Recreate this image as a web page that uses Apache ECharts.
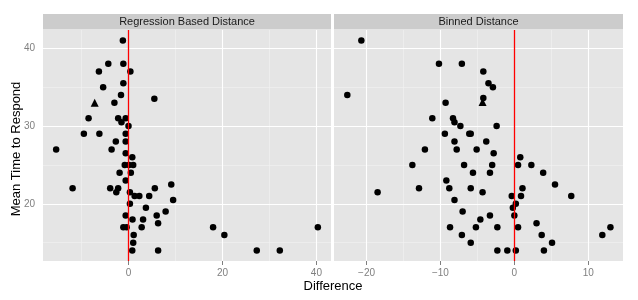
<!DOCTYPE html>
<html>
<head>
<meta charset="utf-8">
<script src="https://cdn.jsdelivr.net/npm/echarts@6/dist/echarts.min.js"></script>
<style>
html,body{margin:0;padding:0;background:#fff;}
#chart{width:638px;height:300px;}
</style>
</head>
<body>
<div id="chart"></div>
<script>
// ---- Data ----
const panelTitles = ["Regression Based Distance", "Binned Distance"];
const xTitle = "Difference";
const yTitle = "Mean Time to Respond";

// Regression Based Distance: [difference, mean time]
const regressionPoints = [
  [-1.2,41],[-4.3,38],[-1.1,38],[-6.3,37],[0.4,37],[-1.1,35.5],[-5.4,35],[-1.6,34],
  [5.5,33.5],[-3.0,33],[-8.5,31],[-2.2,31],[-0.6,31],[-1.5,30.5],[0.0,30],[-9.5,29],
  [-6.2,29],[-0.6,29],[-2.7,28],[-0.6,28],[-15.4,27],[-3.6,27],[-0.6,26.5],[0.8,26],
  [-0.8,25],[0.1,25],[1.0,25],[-1.9,24],[0.5,24],[-0.6,23],[-11.9,22],[-3.9,22],
  [-2.2,22],[5.6,22],[9.1,22.5],[-2.6,21.5],[0.3,21.5],[1.3,21],[2.3,21],[4.4,21],
  [9.5,20.5],[0.3,20],[3.7,19.5],[7.9,19],[-0.6,18.5],[6.0,18.5],[0.85,18],[3.1,18],
  [6.3,17.5],[-1.1,17],[-0.4,17],[2.8,17],[18.0,17],[40.3,17],[1.1,16],[20.4,16],
  [1.0,15],[0.8,14],[6.3,14],[27.3,14],[32.2,14]
];
const regressionTriangle = [[-7.2,33]];

// Binned Distance: [difference, mean time]
const binnedPoints = [
  [-20.7,41],[-22.6,34],[-10.2,38],[-7.1,38],[-4.2,37],[-3.5,35.5],[-2.9,35],[-4.2,33.6],
  [-9.3,33],[-11.1,31],[-8.3,31],[-8.1,30.5],[-7.3,30],[-2.4,30],[-9.4,29],[-6.1,29],
  [-5.9,29],[-8.1,28],[-3.8,28],[-12.1,27],[-7.8,27],[-5.1,27],[-2.8,26.5],[0.8,26],
  [-13.8,25],[-6.8,25],[-3.0,25],[0.5,25],[2.3,25],[-5.6,24],[-3.3,24],[3.9,24],
  [-9.2,23],[5.5,22.5],[-18.5,21.5],[-12.9,22],[-8.8,22],[-5.9,22],[-4.3,21.5],[1.1,22],
  [-0.35,21],[0.9,21],[7.7,21],[-8.1,20.5],[0.2,20],[-0.2,19.5],[-7.0,19],[0.0,18.5],
  [-3.3,18.5],[-4.6,18],[3.0,17.5],[-8.7,17],[-5.2,17],[-2.3,17],[0.5,17],[13.0,17],
  [-7.1,16],[3.7,16],[11.9,16],[-5.9,15],[5.1,15],[-2.3,14],[-0.95,14],[0.2,14],[4.0,14]
];
const binnedTriangle = [[-4.3,33.1]];

// Axis ticks
const yTicks = [20, 30, 40];
const yMinorTicks = [15, 25, 35];
const leftXTicks = [0, 20, 40];
const leftXMinor = [-10, 10, 30];
const rightXTicks = [-20, -10, 0, 10];
const rightXMinor = [-15, -5, 5];
const referenceX = 0;

// Axis ranges (ggplot-style 5% expansion)
const yRange = [12.65, 42.35];
const leftXRange = [-18.2, 43.1];
const rightXRange = [-24.4, 14.7];

// ---- Chart ----
const chart = echarts.init(document.getElementById('chart'), null, {renderer: 'canvas'});
const FONT = '"Liberation Sans", Arial, Helvetica, sans-serif';
const grids = [
  {left: 43, top: 30, width: 288, height: 231},
  {left: 334, top: 30, width: 289, height: 231}
];

function xAxisDef(idx, range, ticks) {
  return {
    type: 'value', gridIndex: idx, min: range[0], max: range[1],
    axisLine: {show: false},
    splitLine: {show: false},
    axisTick: {show: true, customValues: ticks, length: 4, lineStyle: {color: '#7f7f7f', width: 1}},
    axisLabel: {show: true, customValues: ticks, color: '#7f7f7f', fontSize: 10, fontFamily: FONT, margin: 7,
      formatter: v => (v < 0 ? '\u2212' + Math.abs(v) : String(v))}
  };
}
function yAxisDef(idx, showLabels) {
  return {
    type: 'value', gridIndex: idx, min: yRange[0], max: yRange[1],
    axisLine: {show: false},
    splitLine: {show: false},
    axisTick: {show: showLabels, customValues: yTicks, length: 4, lineStyle: {color: '#7f7f7f', width: 1}},
    axisLabel: {show: showLabels, customValues: yTicks, color: '#7f7f7f', fontSize: 10, fontFamily: FONT, margin: 8}
  };
}

function gridLineSeries(idx, xMajor, xMinor) {
  const common = {symbol: ['none', 'none'], silent: true, label: {show: false}, animation: false, z: 1};
  return [
    {
      type: 'line', xAxisIndex: idx, yAxisIndex: idx, data: [], z: 1, silent: true,
      markLine: Object.assign({}, common, {
        lineStyle: {color: '#f2f2f2', width: 0.6, type: 'solid'},
        data: xMinor.map(v => ({xAxis: v})).concat(yMinorTicks.map(v => ({yAxis: v})))
      })
    },
    {
      type: 'line', xAxisIndex: idx, yAxisIndex: idx, data: [], z: 1, silent: true,
      markLine: Object.assign({}, common, {
        lineStyle: {color: '#ffffff', width: 1.1, type: 'solid'},
        data: xMajor.map(v => ({xAxis: v})).concat(yTicks.map(v => ({yAxis: v})))
      })
    }
  ];
}
function pointSeries(idx, pts, symbol, size) {
  return {
    type: 'scatter', xAxisIndex: idx, yAxisIndex: idx, data: pts, symbol: symbol, symbolSize: size,
    itemStyle: {color: '#000000', opacity: 1}, z: 3, silent: true, animation: false
  };
}
function refLineSeries(idx) {
  return {
    type: 'line', xAxisIndex: idx, yAxisIndex: idx, data: [], z: 6, silent: true,
    markLine: {symbol: ['none', 'none'], silent: true, label: {show: false}, animation: false, z: 6,
      lineStyle: {color: '#ff0000', width: 1.3, type: 'solid'}, data: [{xAxis: referenceX}]}
  };
}

const option = {
  animation: false,
  backgroundColor: '#ffffff',
  textStyle: {fontFamily: FONT},
  grid: grids.map(g => Object.assign({show: true, backgroundColor: '#e5e5e5', borderWidth: 0, containLabel: false, outerBoundsMode: 'none'}, g)),
  xAxis: [xAxisDef(0, leftXRange, leftXTicks), xAxisDef(1, rightXRange, rightXTicks)],
  yAxis: [yAxisDef(0, true), yAxisDef(1, false)],
  series: [].concat(
    gridLineSeries(0, leftXTicks, leftXMinor),
    gridLineSeries(1, rightXTicks, rightXMinor),
    [
      pointSeries(0, regressionPoints, 'circle', 6.5),
      pointSeries(0, regressionTriangle, 'triangle', 8),
      pointSeries(1, binnedPoints, 'circle', 6.5),
      pointSeries(1, binnedTriangle, 'triangle', 8),
      refLineSeries(0),
      refLineSeries(1)
    ]
  ),
  graphic: [
    {type: 'rect', left: grids[0].left, top: 14, shape: {width: grids[0].width, height: 15.5}, style: {fill: '#cccccc'}, silent: true},
    {type: 'rect', left: grids[1].left, top: 14, shape: {width: grids[1].width, height: 15.5}, style: {fill: '#cccccc'}, silent: true},
    {type: 'text', x: grids[0].left + grids[0].width / 2, y: 22, silent: true,
      style: {text: panelTitles[0], fill: '#1a1a1a', font: '11px ' + FONT, textAlign: 'center', textVerticalAlign: 'middle', align: 'center', verticalAlign: 'middle'}},
    {type: 'text', x: grids[1].left + grids[1].width / 2, y: 22, silent: true,
      style: {text: panelTitles[1], fill: '#1a1a1a', font: '11px ' + FONT, textAlign: 'center', textVerticalAlign: 'middle', align: 'center', verticalAlign: 'middle'}},
    {type: 'text', x: 333, y: 286, silent: true,
      style: {text: xTitle, fill: '#000000', font: '13px ' + FONT, textAlign: 'center', textVerticalAlign: 'middle', align: 'center', verticalAlign: 'middle'}},
    {type: 'text', x: 16, y: 149, rotation: Math.PI / 2, silent: true,
      style: {text: yTitle, fill: '#000000', font: '13px ' + FONT, textAlign: 'center', textVerticalAlign: 'middle', align: 'center', verticalAlign: 'middle'}}
  ]
};
chart.setOption(option);
</script>
</body>
</html>
